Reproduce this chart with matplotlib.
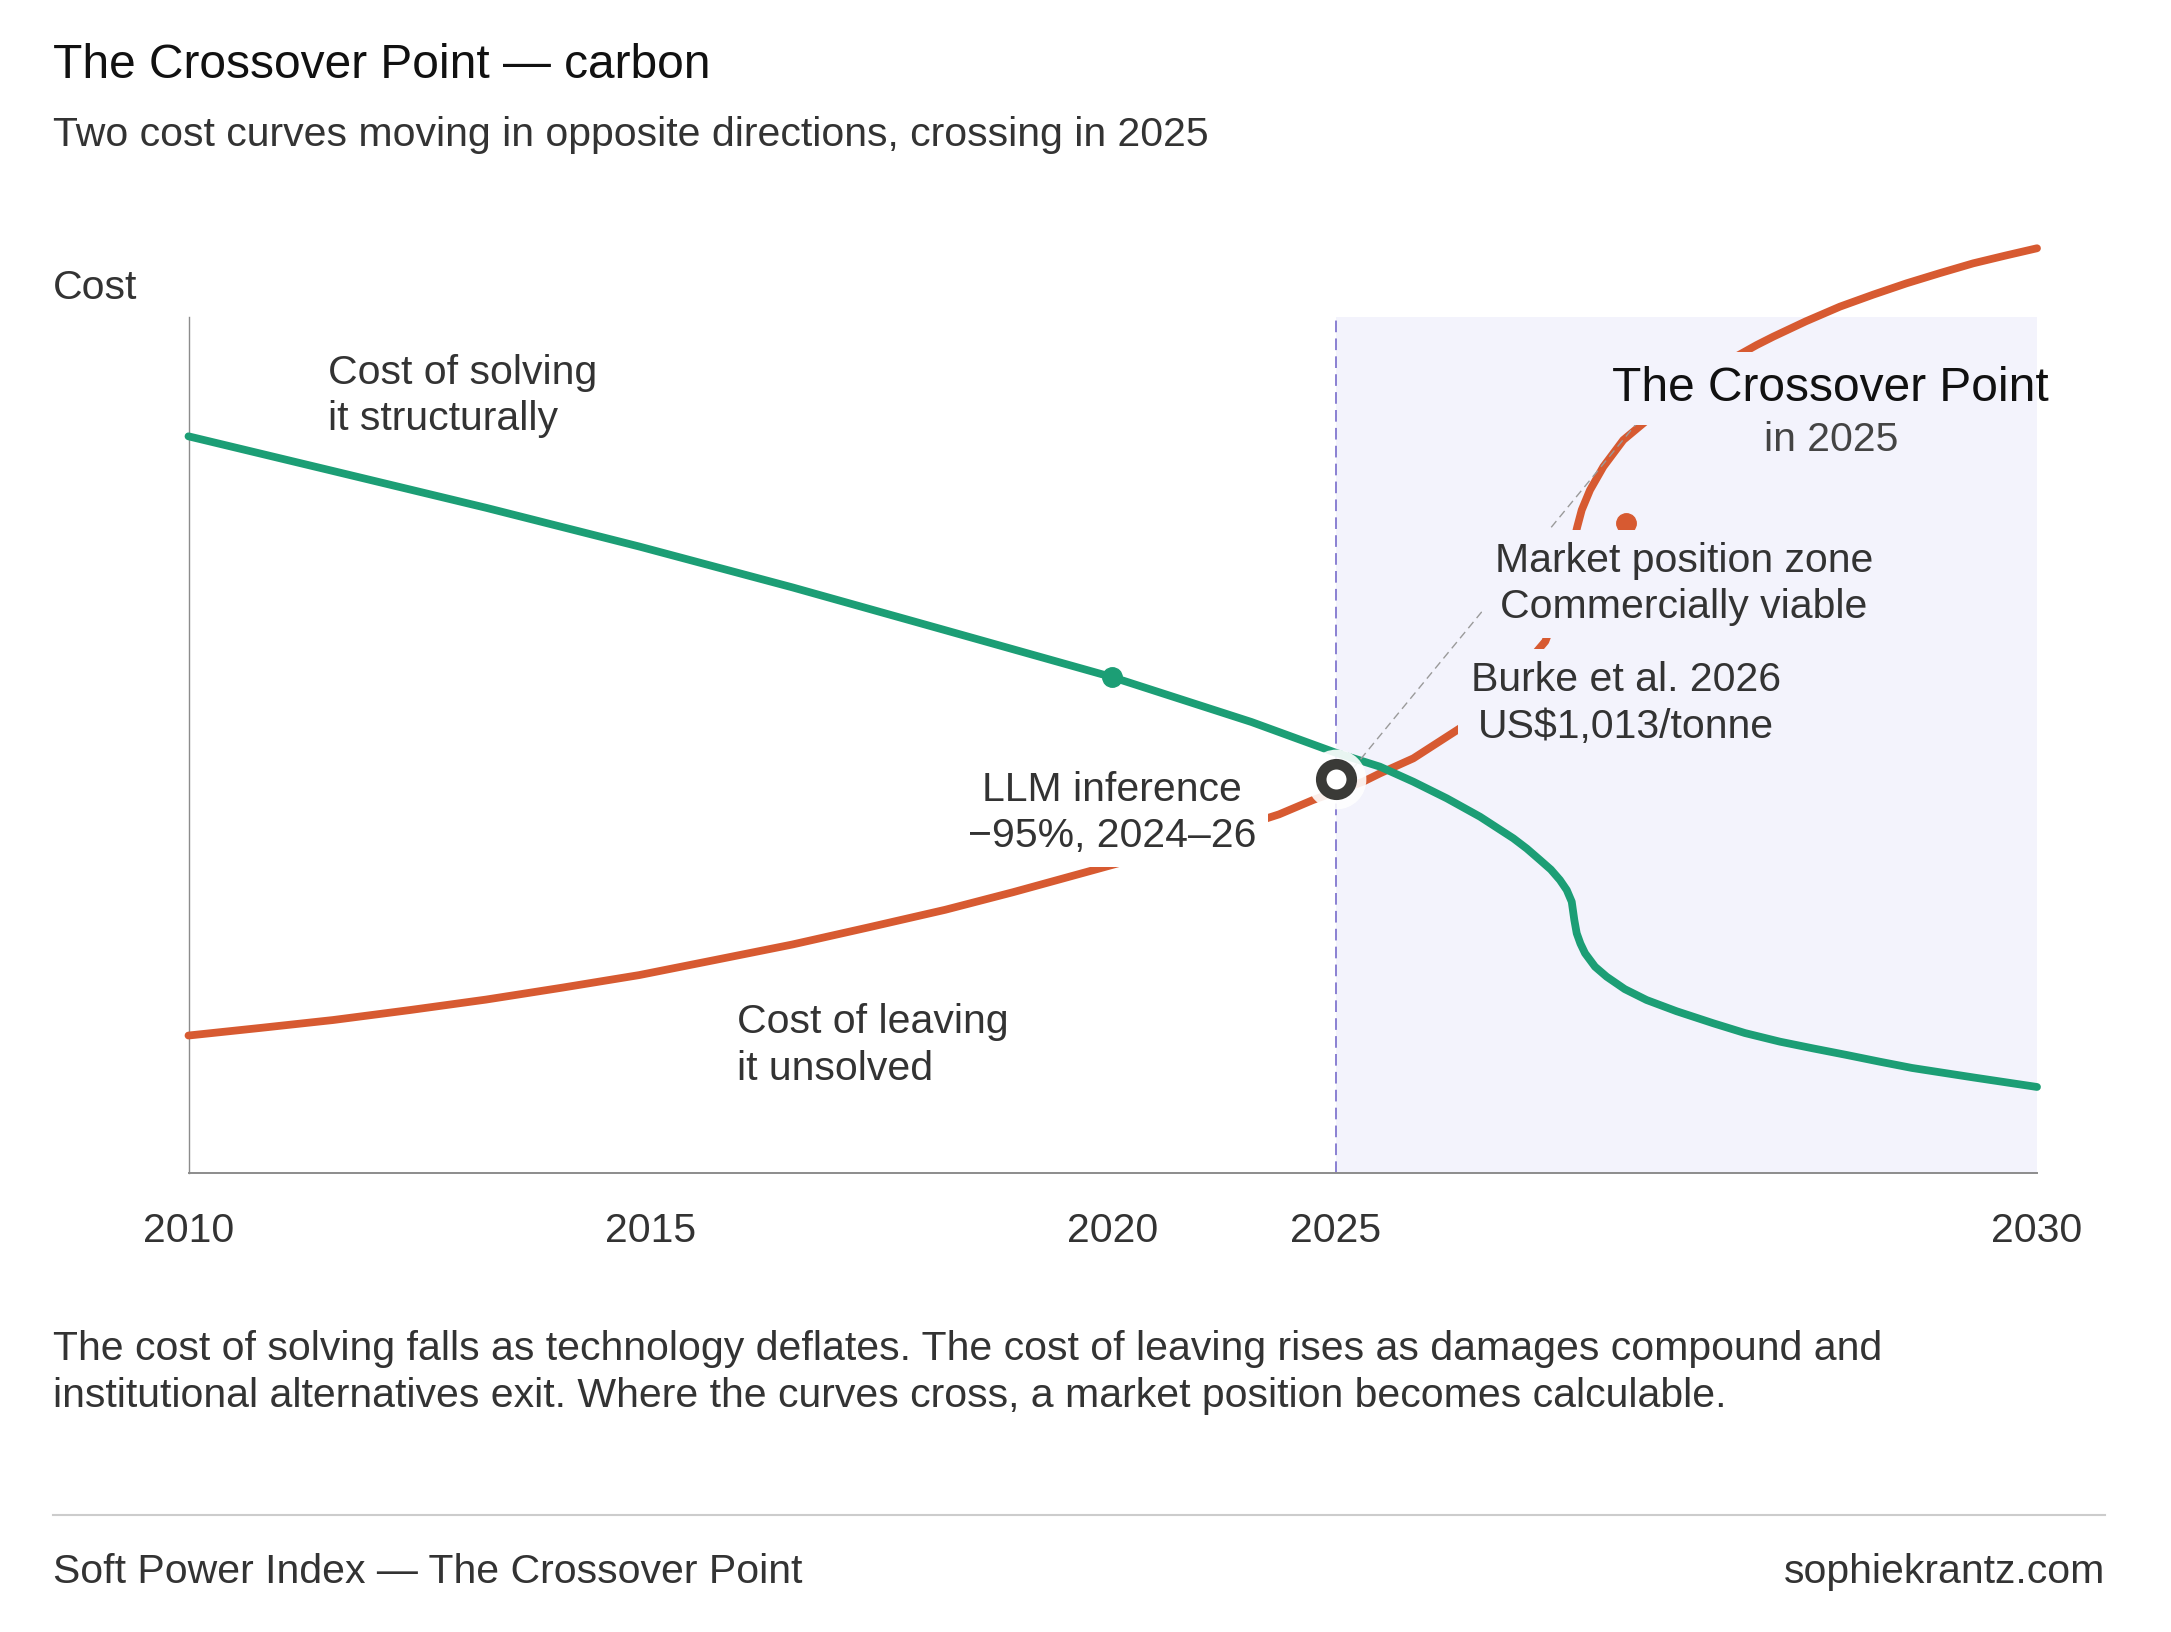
import matplotlib
matplotlib.use('Agg')
import matplotlib.pyplot as plt

W, H = 2171, 1632

# curve samples (x: 0..1 across the 2010-2030 band, y: relative cost)
green_t = [0.0, 0.0782, 0.1610, 0.2438, 0.3266, 0.4094, 0.4997, 0.5750, 0.6206, 0.6445,
           0.6626, 0.6807, 0.6987, 0.7167, 0.724, 0.7311, 0.737, 0.7419, 0.7456, 0.7483,
           0.7497, 0.7510, 0.7530, 0.7555, 0.7609, 0.7672, 0.7770, 0.7888, 0.805, 0.8249,
           0.842, 0.8610, 0.879, 0.8970, 0.915, 0.9324, 0.9660, 1.0]
green_y = [0.8606, 0.8201, 0.7771, 0.7319, 0.6842, 0.6341, 0.5793, 0.5269, 0.4910, 0.4747,
           0.4571, 0.4377, 0.4162, 0.3910, 0.379, 0.3657, 0.3545, 0.3423, 0.3306, 0.3169,
           0.2956, 0.2800, 0.268, 0.2567, 0.2410, 0.2293, 0.2148, 0.2021, 0.189, 0.1749,
           0.1635, 0.1534, 0.1455, 0.1379, 0.130, 0.1227, 0.1115, 0.1005]

orange_t = [0.0, 0.039, 0.0782, 0.1196, 0.1610, 0.2024, 0.2438, 0.2852, 0.3266, 0.368,
            0.4094, 0.446, 0.4839, 0.537, 0.5900, 0.6083, 0.6354, 0.6446, 0.6626, 0.6906,
            0.712, 0.734, 0.740, 0.745, 0.748, 0.7513, 0.7537, 0.7582, 0.7654, 0.7762,
            0.7870, 0.815, 0.8484, 0.8573, 0.875, 0.8934, 0.9115, 0.9295, 0.9475, 0.9655,
            0.983, 1.0]
orange_y = [0.1606, 0.1695, 0.1787, 0.1903, 0.2026, 0.2166, 0.2312, 0.249, 0.2669, 0.287,
            0.3075, 0.328, 0.3505, 0.382, 0.419, 0.4357, 0.4571, 0.4669, 0.4844, 0.5234,
            0.565, 0.621, 0.655, 0.70, 0.725, 0.755, 0.7745, 0.7979, 0.8251, 0.8563,
            0.8758, 0.927, 0.9673, 0.977, 0.995, 1.0121, 1.0262, 1.0394, 1.0513, 1.0627,
            1.0718, 1.0803]

green_dot = (0.4997, 0.5793)
orange_dot = (0.7777, 0.7597)
cross_pt = (0.6206, 0.46)
leader = ([0.6206, 0.79], [0.448, 0.893])

tick_pos = [0.0, 0.25, 0.5, 0.6206, 1.0]
tick_labels = ['2010', '2015', '2020', '2025', '2030']

GREEN = '#1c9e75'
ORANGE = '#d75a31'
SHADE = '#f3f3fc'
DARK = '#333333'
FS = 29.5

plt.rcParams['font.family'] = ['Liberation Sans', 'DejaVu Sans']

fig = plt.figure(figsize=(W / 100, H / 100), dpi=100)
fig.patch.set_facecolor('white')


def fx(px):
    return px / W


def fy(py):
    return 1 - py / H


ax = fig.add_axes([fx(188.5), fy(1173), fx(2037) - fx(188.5), (1173 - 317) / H])
ax.set_xlim(0, 1)
ax.set_ylim(0, 1)
ax.set_facecolor('white')
for s in ['top', 'right']:
    ax.spines[s].set_visible(False)
ax.spines['left'].set_color('#8c8c8c')
ax.spines['left'].set_linewidth(1.0)
ax.spines['bottom'].set_color('#8c8c8c')
ax.spines['bottom'].set_linewidth(1.4)
ax.set_yticks([])
ax.set_xticks(tick_pos, tick_labels)
ax.tick_params(axis='x', length=0, pad=28, labelsize=FS, labelcolor=DARK)

# zone beyond the crossover
ax.axvspan(cross_pt[0], 1.0, color=SHADE, zorder=0, lw=0)
ax.axvline(cross_pt[0], color='#8a80d2', lw=1.4, ls=(0, (6, 3.2)), zorder=1)

ax.plot(orange_t, orange_y, color=ORANGE, lw=5.6, solid_capstyle='round',
        solid_joinstyle='round', clip_on=False, zorder=3)
ax.plot(green_t, green_y, color=GREEN, lw=5.6, solid_capstyle='round',
        solid_joinstyle='round', clip_on=False, zorder=4)
ax.plot(*green_dot, 'o', color=GREEN, ms=14, zorder=4)
ax.plot(*orange_dot, 'o', color=ORANGE, ms=14, zorder=4)

# leader from crossover to headline
ax.plot(*leader, color='#9a9a9a', lw=1.0, ls=(0, (5.8, 3.6)), zorder=5)

# crossover marker
ax.plot(*cross_pt, 'o', color='white', ms=43, mew=0, alpha=0.9, zorder=8)
ax.plot(*cross_pt, 'o', mfc='white', mec='#3a3a37', ms=22, mew=7.6, zorder=9)


def label(x, y, txt, ha='center', size=FS, color=DARK, box=None, clip=False):
    kw = {}
    if box:
        kw['bbox'] = dict(boxstyle='square,pad=0.3', fc=box, ec='none')
    t = ax.text(x, y, txt, ha=ha, va='center', fontsize=size, color=color,
                linespacing=1.27, zorder=6, **kw)
    if box and clip:
        p = t.get_bbox_patch()
        p.set_clip_on(True)
        p.set_clip_box(ax.bbox)
    return t


label(0.0757, 0.908, 'Cost of solving\nit structurally', ha='left')
label(0.2966, 0.149, 'Cost of leaving\nit unsolved', ha='left')
label(0.4996, 0.4207, 'LLM inference\n\u221295%, 2024\u201326', box='white')
label(0.7775, 0.5485, 'Burke et al. 2026\nUS$1,013/tonne', box=SHADE)
label(0.809, 0.688, 'Market position zone\nCommercially viable', box=SHADE)
label(0.8884, 0.9165, 'The Crossover Point', size=34.5, color='#111111', box=SHADE, clip=True)
label(0.8884, 0.856, 'in 2025', color='#444444', box=SHADE)

# header
fig.text(fx(53), fy(78), 'The Crossover Point \u2014 carbon', fontsize=34.5,
         color='#111111', va='baseline')
fig.text(fx(53), fy(146), 'Two cost curves moving in opposite directions, crossing in 2025',
         fontsize=FS, color=DARK, va='baseline')
fig.text(fx(53), fy(299), 'Cost', fontsize=FS, color=DARK, va='baseline')

# caption
fig.text(fx(53), fy(1360), 'The cost of solving falls as technology deflates. The cost of leaving '
         'rises as damages compound and', fontsize=FS, color=DARK, va='baseline')
fig.text(fx(53), fy(1407), 'institutional alternatives exit. Where the curves cross, a market '
         'position becomes calculable.', fontsize=FS, color=DARK, va='baseline')

# footer
fig.add_artist(plt.Line2D([fx(53), fx(2105)], [fy(1515), fy(1515)], color='#cccccc', lw=1.5))
fig.text(fx(53), fy(1583), 'Soft Power Index \u2014 The Crossover Point', fontsize=FS,
         color=DARK, va='baseline')
fig.text(fx(2105), fy(1583), 'sophiekrantz.com', fontsize=FS, color=DARK,
         va='baseline', ha='right')

fig.savefig('out.png', dpi=100)
